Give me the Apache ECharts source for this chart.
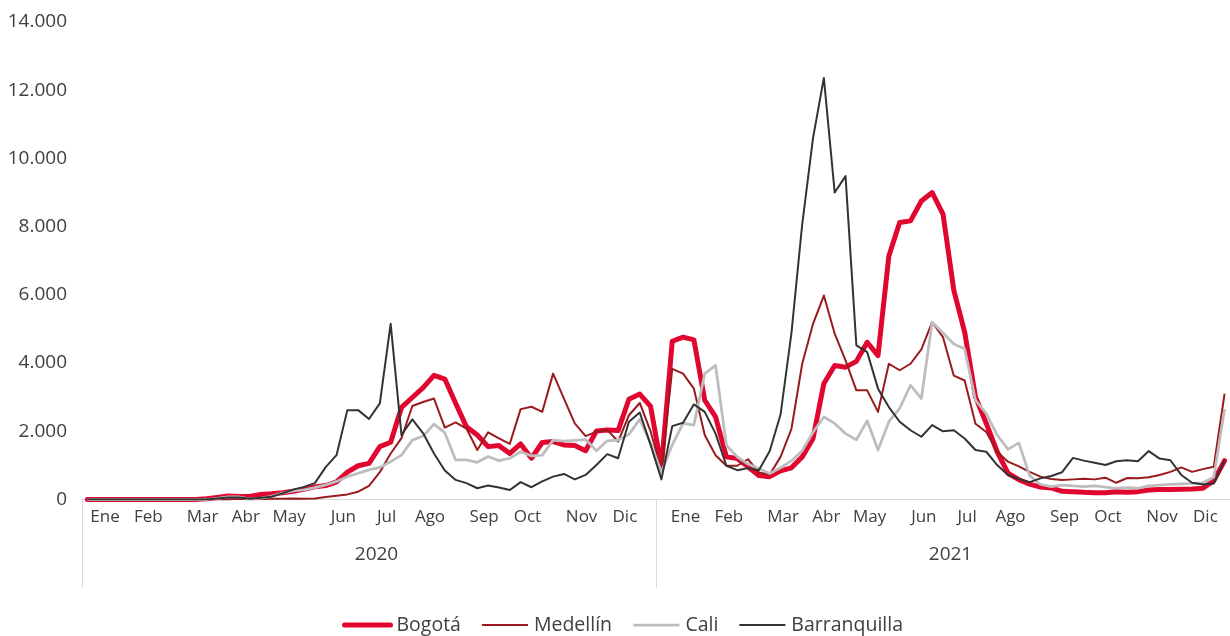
<!DOCTYPE html>
<html>
<head>
<meta charset="utf-8">
<script src="https://cdn.jsdelivr.net/npm/echarts@6/dist/echarts.min.js"></script>
<style>
html,body{margin:0;padding:0;background:#fff;}
#chart{width:1230px;height:636px;}
</style>
</head>
<body>
<div id="chart"></div>
<script>
// Weekly categories (2020: 53 weeks, 2021: 53 weeks) – month name on the week where the label sits
const weekLabels2020 = ['', '', 'Ene', '', '', '', 'Feb', '', '', '', '', 'Mar', '', '', '', 'Abr', '', '', '', 'May', '', '', '', '', 'Jun', '', '', '', 'Jul', '', '', '', 'Ago', '', '', '', '', 'Sep', '', '', '', 'Oct', '', '', '', '', 'Nov', '', '', '', 'Dic', '', ''];
const weekLabels2021 = ['', '', 'Ene', '', '', '', 'Feb', '', '', '', '', 'Mar', '', '', '', 'Abr', '', '', '', 'May', '', '', '', '', 'Jun', '', '', '', 'Jul', '', '', '', 'Ago', '', '', '', '', 'Sep', '', '', '', 'Oct', '', '', '', '', 'Nov', '', '', '', 'Dic', '', ''];
const years = ['2020', '2021'];
const yTicks = [0, 2000, 4000, 6000, 8000, 10000, 12000, 14000];
const cities = ['Bogotá', 'Medellín', 'Cali', 'Barranquilla'];

const bogota = [
  0, 0, 0, 0, 0, 0, 0, 0, 0, 0, 0, 20, 60, 100, 90, 90, 150, 170, 200, 240,
  300, 370, 410, 520, 800, 990, 1060, 1550, 1680, 2700, 2990, 3280, 3640, 3530, 2820, 2130, 1890, 1550, 1580, 1350,
  1630, 1210, 1670, 1700, 1600, 1580, 1430, 2010, 2040, 2020, 2940, 3090, 2730,
  950, 4640, 4760, 4680, 2910, 2420, 1250, 1200, 960, 700, 670, 840, 930, 1250, 1790, 3400, 3930,
  3880, 4050, 4610, 4220, 7140, 8120, 8170, 8750, 9000, 8370, 6130, 4910, 3010, 2230, 1400, 770, 580, 450, 365, 340,
  240, 230, 210, 200, 200, 230, 210, 230, 280, 290, 290, 300, 310, 330, 550, 1140
];
const medellin = [
  0, 0, 0, 0, 0, 0, 0, 0, 0, 0, 0, 0, 0, 0, 20, 10, 10, 20, 20, 30,
  20, 30, 70, 110, 150, 230, 400, 800, 1350, 1800, 2740, 2860, 2960, 2110, 2260, 2080, 1450, 1970, 1790, 1630,
  2650, 2720, 2570, 3690, 2960, 2230, 1860, 1990, 2040, 1700, 2470, 2830, 2000,
  850, 3830, 3690, 3250, 1890, 1300, 990, 990, 1180, 790, 730, 1250, 2060, 3980, 5150, 5980, 4860,
  4080, 3200, 3200, 2570, 3980, 3790, 3980, 4400, 5200, 4760, 3630, 3490, 2220, 1980, 1400, 1110, 970, 810, 670, 600,
  570, 590, 610, 590, 640, 490, 630, 620, 650, 720, 810, 940, 810, 890, 960, 3100
];
const cali = [
  0, 0, 0, 0, 0, 0, 0, 0, 0, 0, 0, 0, 30, 80, 80, 10, 40, 90, 190, 250,
  280, 350, 430, 530, 670, 770, 870, 940, 1110, 1300, 1740, 1860, 2210, 1960, 1160, 1160, 1090, 1260, 1140, 1210,
  1400, 1280, 1300, 1740, 1710, 1730, 1760, 1430, 1720, 1740, 1910, 2350, 1650,
  800, 1600, 2230, 2180, 3690, 3930, 1590, 1250, 1040, 910, 765, 930, 1130, 1430, 1970, 2420, 2230,
  1930, 1750, 2310, 1450, 2280, 2670, 3350, 2960, 5200, 4880, 4560, 4420, 2910, 2520, 1890, 1470, 1660, 700, 440, 380,
  420, 400, 380, 400, 360, 330, 350, 330, 400, 420, 440, 460, 470, 490, 650, 2650
];
const barranquilla = [
  0, 0, 0, 0, 0, 0, 0, 0, 0, 0, 0, 0, 30, 60, 60, 20, 50, 80, 180, 290,
  370, 480, 950, 1300, 2620, 2620, 2360, 2820, 5150, 1890, 2350, 1940, 1350, 850, 575, 480, 330, 410, 350, 280,
  510, 360, 530, 670, 750, 590, 720, 1010, 1330, 1210, 2280, 2550, 1600,
  590, 2150, 2250, 2790, 2570, 1930, 990, 860, 920, 860, 1420, 2490, 4860, 8070, 10600, 12360, 9000,
  9480, 4520, 4320, 3250, 2710, 2280, 2030, 1840, 2180, 2000, 2030, 1790, 1450, 1400, 1010, 720, 600, 510, 620, 690,
  800, 1220, 1140, 1080, 1010, 1120, 1150, 1120, 1420, 1200, 1150, 720, 490, 440, 470, 1150
];

const weekLabels = weekLabels2020.concat(weekLabels2021);
const FONT = '"Open Sans", sans-serif';
const TEXT = '#404040';
const COLORS = ['#E0062F', '#9A1B1E', '#BDBDBD', '#333333'];
const WIDTHS = [5, 2, 2.75, 2];
const seriesData = [bogota, medellin, cali, barranquilla];

function thousands(v) {
  return String(v).replace(/\B(?=(\d{3})+(?!\d))/g, '.');
}

const chart = echarts.init(document.getElementById('chart'), null, {renderer: 'canvas'});
chart.setOption({
  animation: false,
  backgroundColor: '#ffffff',
  grid: {left: 82, right: -3, top: 22, bottom: 136.5, containLabel: false},
  legend: {
    show: true,
    orient: 'horizontal',
    data: cities.map(function (c, i) {
      return {
        name: c,
        itemStyle: {opacity: 0},
        lineStyle: {width: WIDTHS[i], color: COLORS[i], cap: i === 0 ? 'round' : 'butt', opacity: 1}
      };
    }),
    left: 337,
    top: 610,
    itemWidth: 46,
    itemHeight: 14,
    itemGap: 20,
    textStyle: {fontFamily: FONT, fontSize: 19.5, color: TEXT, padding: [0, 0, 0, 1]}
  },
  xAxis: [
    {
      type: 'category',
      data: weekLabels,
      boundaryGap: true,
      axisLine: {show: true, lineStyle: {color: '#d9d9d9', width: 1}},
      axisTick: {show: false},
      axisLabel: {
        interval: 0,
        margin: 9,
        fontFamily: FONT,
        fontSize: 17,
        color: TEXT,
        formatter: function (val, idx) {
          if (!val) return '';
          return idx < weekLabels2020.length ? '{a|' + val + '}' : '{b|' + val + '}';
        },
        rich: {
          a: {fontFamily: FONT, fontSize: 17, color: TEXT, padding: [0, 8, 0, 0]},
          b: {fontFamily: FONT, fontSize: 17, color: TEXT, padding: [0, 0, 0, 5]}
        }
      },
      splitLine: {show: false}
    },
    {
      type: 'category',
      data: years,
      position: 'bottom',
      boundaryGap: true,
      axisLine: {show: false},
      axisTick: {show: true, length: 88, lineStyle: {color: '#d9d9d9', width: 1}},
      axisLabel: {margin: 46, fontFamily: FONT, fontSize: 19, color: TEXT, padding: [0, 0, 0, 15]},
      splitLine: {show: false}
    }
  ],
  yAxis: {
    type: 'value',
    min: 0,
    max: 14000,
    interval: 2000,
    axisLine: {show: false},
    axisTick: {show: false},
    splitLine: {show: false},
    axisLabel: {
      margin: 15,
      fontFamily: FONT,
      fontSize: 19,
      color: TEXT,
      formatter: function (v) { return yTicks.indexOf(v) >= 0 ? thousands(v) : ''; }
    }
  },
  series: cities.map(function (c, i) {
    return {
      name: c,
      type: 'line',
      data: seriesData[i],
      symbol: 'none',
      color: COLORS[i],
      lineStyle: {width: WIDTHS[i], color: COLORS[i], join: 'round', cap: i === 0 ? 'round' : 'butt'}
    };
  })
});
</script>
</body>
</html>
